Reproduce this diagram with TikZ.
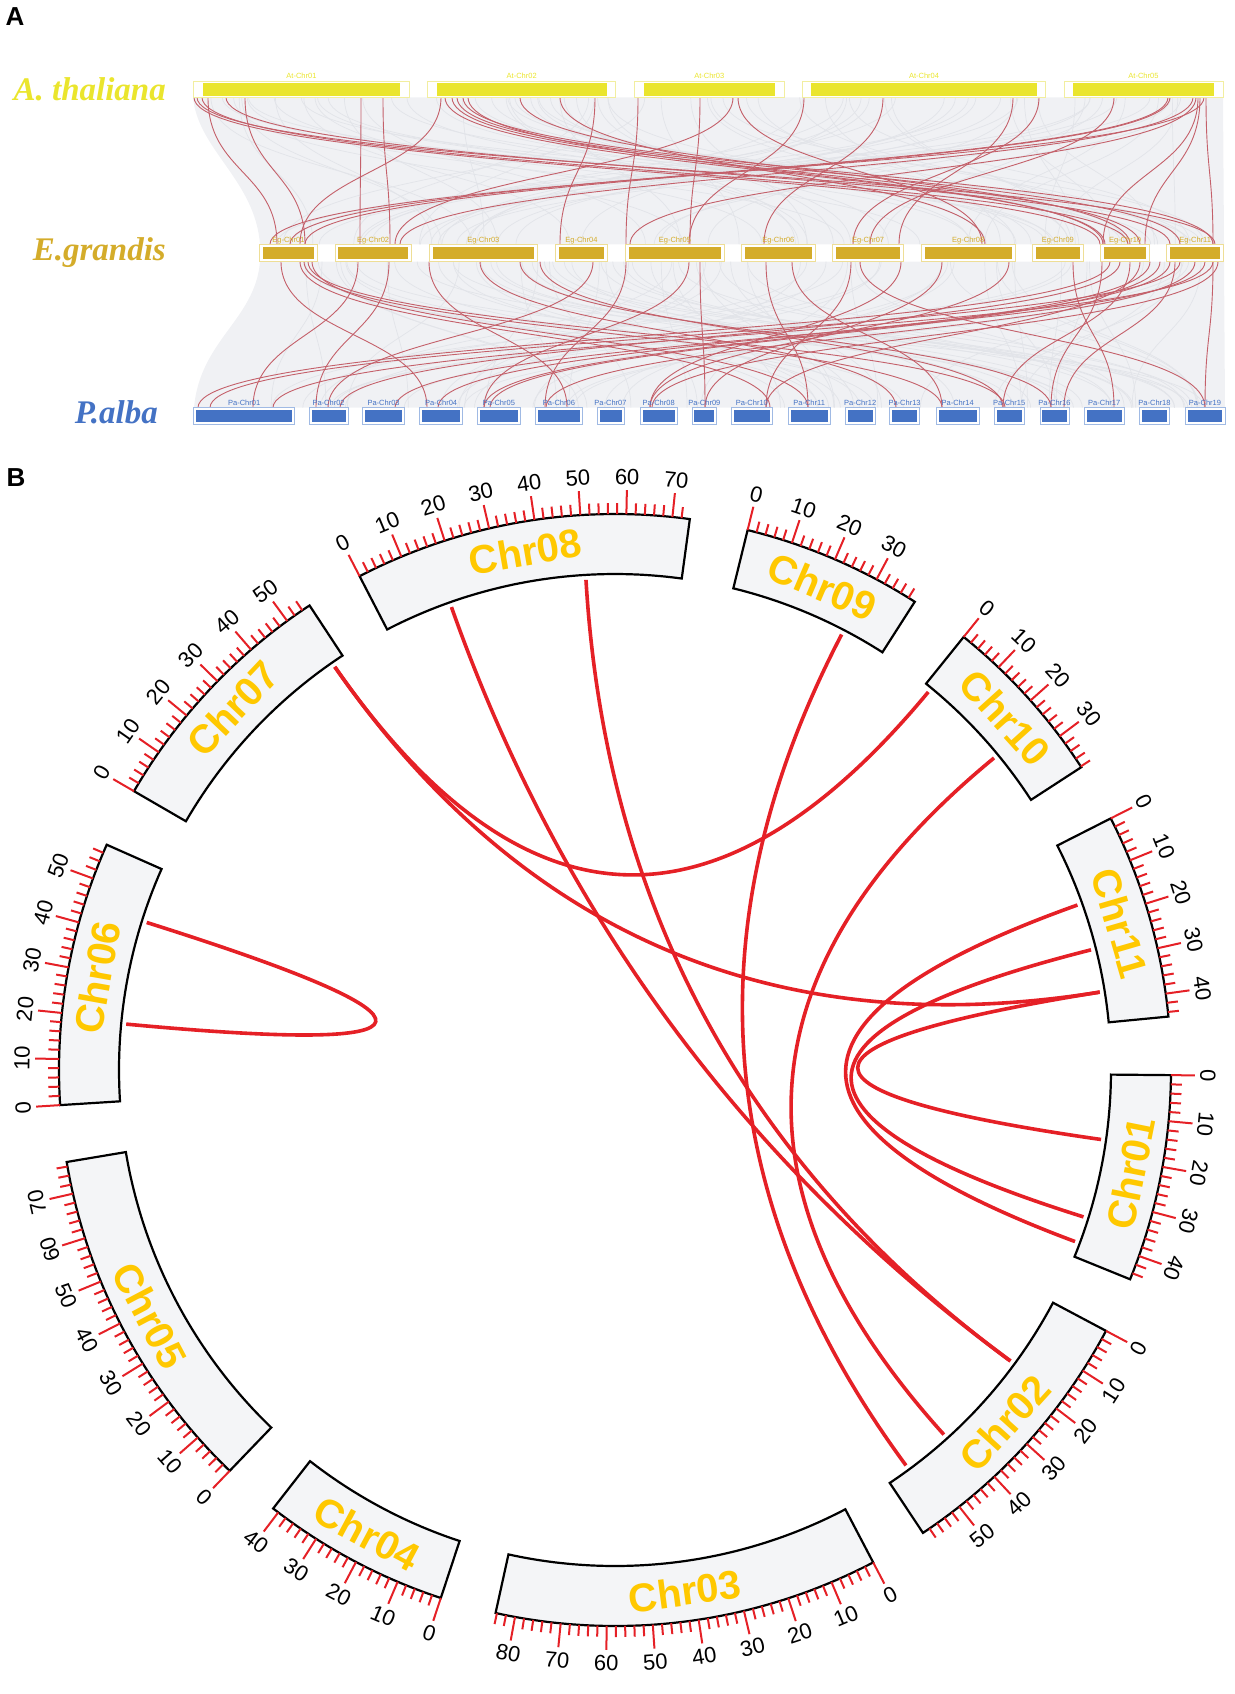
\documentclass[tikz,border=0pt]{standalone}
\usepackage{fontspec}
\setmainfont{Liberation Sans}
\newfontfamily\speciesfont{Liberation Serif}
\usetikzlibrary{calc}

\definecolor{atyellow}{RGB}{234,229,45}
\definecolor{atline}{RGB}{242,238,160}
\definecolor{eggold}{RGB}{212,172,42}
\definecolor{egline}{RGB}{238,222,150}
\definecolor{pablue}{RGB}{68,114,196}
\definecolor{paline}{RGB}{160,186,228}
\definecolor{bandgrey}{RGB}{240,241,244}
\definecolor{streak}{RGB}{226,228,233}
\definecolor{synred}{RGB}{196,96,106}
\definecolor{linkred}{RGB}{229,32,38}
\definecolor{chrgold}{RGB}{255,200,0}
\definecolor{boxgrey}{RGB}{244,245,247}

\begin{document}
\begin{tikzpicture}[x=1pt,y=-1pt,
    panel/.style={font=\bfseries\fontsize{26}{26}\selectfont,inner sep=0},
    species/.style={font=\speciesfont\bfseries\itshape\fontsize{33}{33}\selectfont,anchor=base east,inner sep=0},
    barlabel/.style={font=\fontsize{7.5}{7.5}\selectfont,inner sep=0,anchor=base},
    synline/.style={synred,line width=0.9pt},
    greyline/.style={streak,line width=0.7pt},
    chrbox/.style={draw=black,fill=boxgrey,line width=2.2pt},
    tickmark/.style={linkred,line width=2pt},
    ticklabel/.style={font=\fontsize{22}{22}\selectfont,inner sep=0},
    chrname/.style={font=\bfseries\fontsize{40}{40}\selectfont,text=chrgold,inner sep=0},
    link/.style={linkred,line width=3.6pt},
    chord/.style={to path={.. controls ($(\tikztostart)!0.6667!(O)$) and ($(\tikztotarget)!0.6667!(O)$) .. (\tikztotarget)}}
  ]
  \useasboundingbox (0,0) rectangle (1234,1694);

  %%%%%%%%%% PANEL A %%%%%%%%%%
  \node[panel] (lblA) at (15,17) {A};

  % species names
  \node[species,text=atyellow] (ath) at (166,100) {A. thaliana};
  \node[species,text=eggold] (egr) at (166,260) {E.grandis};
  \node[species,text=pablue] (pal) at (158,423) {P.alba};

  % grey synteny background
  \fill[bandgrey] (193,97.3) -- (1223,97.3) -- (1224,244.3) -- (260,244.3) .. controls (255,180) and (198,150) .. cycle;
  \fill[bandgrey] (260,261.7) -- (1224,261.7) -- (1225,407.7) -- (194,407.7) .. controls (200,340) and (255,320) .. cycle;
  \pgfmathsetseed{12}
  \foreach \i in {1,...,80}{
    \pgfmathsetmacro\p{200+rnd*1015}
    \pgfmathsetmacro\q{268+rnd*950}
    \draw[greyline] (\p,97.3) .. controls (\p,172) and (\q,172) .. (\q,244.3);
  }
  \foreach \i in {1,...,80}{
    \pgfmathsetmacro\p{268+rnd*950}
    \pgfmathsetmacro\q{200+rnd*1015}
    \draw[greyline] (\p,261.7) .. controls (\p,335) and (\q,335) .. (\q,407.7);
  }

  % collinear gene pairs
  \foreach \p/\q in {194/1100,197/1215,202/1128,208/277,226/1170,245/305,361/360,383/390,441/300,445/1105,
      452/1140,457/1180,463/1213,468/1103,595/560,638/626,733/395,738/982,804/689,883/764,1013/899,
      1039/853,1114/870,1168/290,1170/305,1193/400,1196/630,1198/1103,1206/1213,1200/1145,1204/270,
      700/690,560/985,520/1130}
    \draw[synline] (\p,97.3) .. controls (\p,172) and (\q,172) .. (\q,244.3);
  \foreach \p/\q in {281/427,300/770,304/942,308/1005,312/808,358/253,389/316,429/567,593/328,626/545,
      689/484,700/705,766/808,792/942,851/766,901/650,942/705,1009/650,1073/1114,1102/1051,1110/198,
      1130/1003,1140/766,1150/484,1170/438,1175/1064,1180/210,1195/546,1205/395,1213/1205,1213/273,
      1218/652,480/896,520/1051,540/1003,860/1205,1120/340,1160/490}
    \draw[synline] (\p,261.7) .. controls (\p,335) and (\q,335) .. (\q,407.7);

  % chromosomes
  \foreach \nm/\xa/\xb in {01/193.7/409.2,02/427.8/615.6,03/634.6/784.0,04/802.2/1045.8,05/1064.0/1222.9}{
    \draw[atline,fill=white,line width=0.8pt] (\xa,81) rectangle (\xb,97.3);
    \fill[atyellow] (\xa+9,83.3) rectangle (\xb-9,95.7);
    \node[barlabel,text=atyellow] (at\nm) at ({(\xa+\xb)/2},78) {At-Chr\nm};
  }
  \foreach \nm/\xa/\xb in {01/259.8/317.1,02/334.9/411.2,03/429.0/537.7,04/555.1/607.7,05/625.1/724.7,
      06/741.3/815.3,07/832.7/903.4,08/921.2/1015.3,09/1032.3/1083.3,10/1100.3/1149.8,11/1166.8/1223.7}{
    \draw[egline,fill=white,line width=0.8pt] (\xa,244.3) rectangle (\xb,261.7);
    \fill[eggold] (\xa+3.5,246.7) rectangle (\xb-3.5,259.3);
    \node[barlabel,text=eggold] (eg\nm) at ({(\xa+\xb)/2},242) {Eg-Chr\nm};
  }
  \foreach \nm/\xa/\xb in {01/193.7/294.6,02/309.2/348.0,03/362.6/404.5,04/419.5/462.6,05/477.2/520.7,
      06/535.4/582.4,07/597.0/624.0,08/640.1/677.3,09/691.9/716.8,10/731.4/772.2,11/788.0/830.3,
      12/845.3/875.0,13/889.6/919.6,14/936.3/979.0,15/994.4/1024.0,16/1039.9/1069.1,17/1084.5/1124.0,
      18/1139.5/1169.5,19/1185.0/1224.9}{
    \draw[paline,fill=white,line width=0.8pt] (\xa,407.7) rectangle (\xb,424);
    \fill[pablue] (\xa+2.5,410) rectangle (\xb-2.5,422);
    \node[barlabel,text=pablue] (pa\nm) at ({(\xa+\xb)/2},405.5) {Pa-Chr\nm};
  }

  %%%%%%%%%% PANEL B %%%%%%%%%%
  \node[panel] (lblB) at (16,478) {B};

  \begin{scope}[shift={(615,1070)}]
    \coordinate (O) at (0,0);
    \def\mbdeg{0.4754}
    \def\rin{496}
    \def\rout{556}
    \def\rl{491}

    % chromosome boxes, ticks and names
    \foreach \nm/\s/\len in {01/0.53/45.4,02/27.98/59.7,03/62.33/84.3,04/108.26/41.4,05/133.87/77.0,
        06/176.38/57.9,07/210.1/55.9,08/242.65/73.8,09/283.8/39.6,10/308.84/38.2,11/333.09/45.0}{
      \pgfmathsetmacro\e{\s+\len*\mbdeg}
      \pgfmathsetmacro\cmid{(\s+\e)/2}
      \pgfmathsetmacro\rot{ifthenelse(\cmid<180,90-\cmid,270-\cmid)}
      \pgfmathtruncatemacro\lenint{\len}
      \draw[chrbox] plot[domain=\s:\e,samples=60] (\x:\rout) -- plot[domain=\e:\s,samples=60] (\x:\rin) -- cycle;
      \node[chrname,rotate=\rot] (chr\nm) at (\cmid:526) {Chr\nm};
      \foreach \m in {0,2,...,\lenint}{
        \pgfmathsetmacro\a{\s+\m*\mbdeg}
        \pgfmathtruncatemacro\major{mod(\m,10)==0}
        \ifnum\major=1
          \pgfmathsetmacro\trot{ifthenelse(and(\a>20,\a<160),90-\a,270-\a)}
          \draw[tickmark] (\a:\rout) -- (\a:{\rout+24});
          \node[ticklabel,rotate=\trot] (t\nm-\m) at (\a:{\rout+37}) {\m};
        \else
          \draw[tickmark] (\a:\rout) -- (\a:{\rout+11});
        \fi
      }
    }

    % link ends (chromosome start angle + Mb)
    \coordinate (c06u) at ({176.38+44.4*\mbdeg}:\rl);
    \coordinate (c06l) at ({176.38+18.9*\mbdeg}:\rl);
    \coordinate (c07) at ({210.1+52.8*\mbdeg}:\rl);
    \coordinate (c10a) at ({308.84+1.7*\mbdeg}:\rl);
    \coordinate (c10b) at ({308.84+24.6*\mbdeg}:\rl);
    \coordinate (c08a) at ({242.65+16.6*\mbdeg}:\rl);
    \coordinate (c08b) at ({242.65+50.4*\mbdeg}:\rl);
    \coordinate (c09) at ({283.8+28.8*\mbdeg}:\rl);
    \coordinate (c02a) at ({27.98+17.6*\mbdeg}:\rl);
    \coordinate (c02b) at ({27.98+42.0*\mbdeg}:\rl);
    \coordinate (c02c) at ({27.98+54.0*\mbdeg}:\rl);
    \coordinate (c11a) at ({333.09+15.3*\mbdeg}:\rl);
    \coordinate (c11b) at ({333.09+26.8*\mbdeg}:\rl);
    \coordinate (c11c) at ({333.09+37.4*\mbdeg}:\rl);
    \coordinate (c01a) at ({0.53+16.0*\mbdeg}:\rl);
    \coordinate (c01b) at ({0.53+35.5*\mbdeg}:\rl);
    \coordinate (c01c) at ({0.53+41.9*\mbdeg}:\rl);

    % links
    \draw[link] (c06u) to[chord] (c06l);
    \draw[link] (c07) to[chord] (c10a);
    \draw[link] (c07) to[chord] (c11c);
    \draw[link] (c08a) to[chord] (c02a);
    \draw[link] (c08b) to[chord] (c02a);
    \draw[link] (c10b) to[chord] (c02b);
    \draw[link] (c09) to[chord] (c02c);
    \draw[link] (c11a) to[chord] (c01c);
    \draw[link] (c11b) to[chord] (c01b);
    \draw[link] (c11c) to[chord] (c01a);
  \end{scope}
\end{tikzpicture}
\end{document}
